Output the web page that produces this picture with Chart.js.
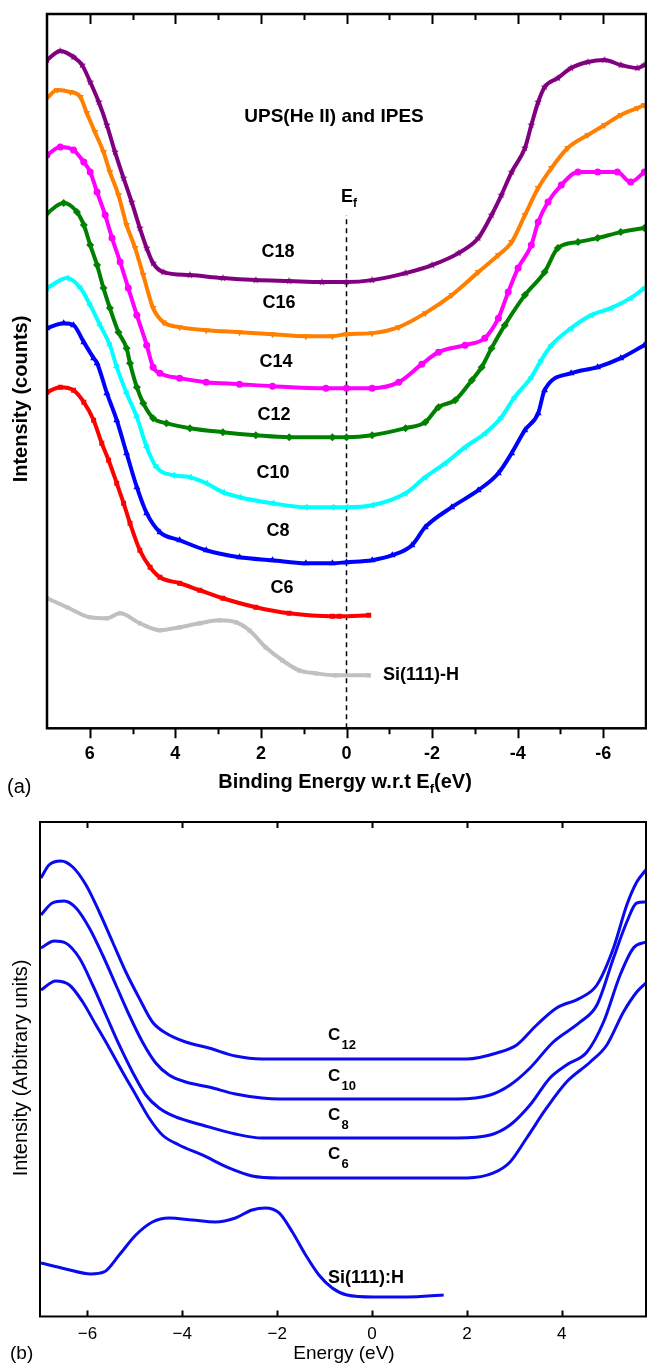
<!DOCTYPE html>
<html>
<head>
<meta charset="utf-8">
<script src="https://cdn.jsdelivr.net/npm/chart.js@4.4.1/dist/chart.umd.min.js"></script>
<style>
html,body{margin:0;padding:0;background:#fff;}
#wrapA{position:absolute;left:0;top:0;width:647px;height:800px;}
#wrapB{position:absolute;left:0;top:800px;width:647px;height:564px;}
</style>
</head>
<body>
<div id="wrapA"><canvas id="chartA" width="647" height="800"></canvas></div>
<div id="wrapB"><canvas id="chartB" width="647" height="564"></canvas></div>
<script>
// ---- panel (a): UPS(He II) + IPES, binding energy (eV), intensity in arbitrary counts
const c18E = [7.0,6.69,6.38,6.18,5.99,5.79,5.6,5.41,5.21,5.02,4.83,4.67,4.52,4.28,3.66,2.89,2.12,1.34,0.57,0.0,-0.6,-1.38,-2.0,-2.62,-3.08,-3.39,-3.62,-3.86,-4.17,-4.32,-4.48,-4.63,-4.94,-5.25,-5.64,-6.03,-6.41,-6.8,-6.96];
const c18V = [668,677,671,663,646,626,603,576,550,526,500,480,465,456,453,450,448,447,446,446,448,455,463,475,490,513,533,556,580,603,626,641,650,660,666,668,663,660,663];
const c16E = [7.0,6.76,6.45,6.22,6.07,5.88,5.68,5.53,5.33,5.14,4.94,4.75,4.52,4.28,3.9,3.28,2.5,1.73,0.95,0.33,0.0,-0.6,-1.22,-1.84,-2.46,-3.08,-3.55,-3.86,-4.17,-4.48,-4.79,-5.17,-5.64,-6.03,-6.41,-6.8,-6.96];
const c16V = [630,638,636,631,615,596,576,556,533,503,480,453,420,406,401,398,396,394,392,392,394,395,401,415,433,456,473,486,513,540,560,580,593,603,613,620,623];
const c14E = [7.0,6.69,6.38,6.14,5.99,5.83,5.64,5.48,5.29,5.1,4.9,4.67,4.52,4.36,3.9,3.28,2.5,1.73,0.48,0.0,-0.6,-1.22,-1.76,-2.15,-2.77,-3.23,-3.55,-3.78,-4.01,-4.32,-4.48,-4.71,-5.02,-5.41,-5.87,-6.33,-6.64,-6.96];
const c14V = [573,581,578,566,556,536,513,490,466,440,413,383,361,355,350,346,344,342,340,340,340,346,364,376,383,390,410,436,460,483,506,526,543,556,556,556,546,556];
const c12E = [7.0,6.61,6.3,6.14,5.99,5.83,5.68,5.53,5.33,5.14,5.06,4.9,4.75,4.52,4.21,3.66,2.89,2.12,1.34,0.33,0.0,-0.6,-1.38,-1.84,-2.15,-2.54,-2.93,-3.16,-3.39,-3.7,-4.17,-4.63,-4.94,-5.41,-5.87,-6.41,-6.96];
const c12V = [515,525,516,503,483,463,440,420,396,380,365,341,325,310,305,300,296,293,291,291,291,293,300,306,321,328,348,361,380,403,433,456,480,486,490,496,500];
const c10E = [7.0,6.53,6.22,5.99,5.76,5.53,5.37,5.14,4.9,4.67,4.44,4.05,3.66,3.28,2.89,2.5,1.73,0.95,0.33,0.0,-0.6,-1.38,-1.84,-2.31,-2.77,-3.24,-3.62,-3.93,-4.32,-4.55,-4.79,-5.25,-5.72,-6.18,-6.64,-6.96];
const c10V = [440,450,440,423,403,383,361,335,311,281,261,253,251,245,236,231,225,221,221,221,223,235,251,265,281,295,311,331,351,368,383,400,413,420,430,440];
const c8E = [7.0,6.61,6.38,6.14,5.91,5.83,5.6,5.37,5.14,4.9,4.67,4.36,3.9,3.28,2.5,1.73,0.95,0.33,0.0,-0.6,-1.07,-1.53,-1.84,-2.46,-3.08,-3.55,-3.86,-4.17,-4.48,-4.63,-5.25,-5.87,-6.41,-6.96];
const c8V = [400,405,403,386,370,365,335,308,275,241,215,196,188,178,171,168,165,165,166,168,173,183,201,221,238,255,275,298,315,338,355,361,370,383];
const c6E = [7.0,6.69,6.38,6.14,5.91,5.72,5.56,5.37,5.21,5.06,4.83,4.59,4.36,3.9,3.43,2.89,2.12,1.34,0.33,0.17,-0.52];
const c6V = [336,341,338,326,308,285,268,245,225,205,178,161,151,145,138,130,121,115,112,112,113];
const siE = [7.0,6.53,5.99,5.6,5.29,4.83,4.36,3.9,3.43,2.97,2.58,2.27,1.89,1.5,1.11,0.72,0.26,-0.52];
const siV = [130,121,111,110,115,105,98,101,105,108,106,98,81,68,58,55,53,53];
const efLineV = [0, 513];
const ticksA = [-7,-6,-5,-4,-3,-2,-1,0,1,2,3,4,5,6,7];

// ---- panel (b): calculated DOS, energy (eV)
const bC12E = [-6.98,-6.81,-6.56,-6.31,-6.03,-5.75,-5.47,-5.19,-4.91,-4.63,-4.35,-3.93,-3.44,-2.88,-2.32,-1.96,2.0,2.63,3.05,3.47,3.89,4.39,4.74,5.09,5.37,5.58,5.77];
const bC12V = [437,450,454,448,430,403,373,343,317,293,282,273,267,259,256,256,256,262,270,290,307,317,330,367,410,433,445];
const bC10E = [-6.98,-6.74,-6.49,-6.24,-5.96,-5.68,-5.4,-5.12,-4.84,-4.56,-4.28,-3.93,-3.44,-2.88,-2.32,-1.96,1.79,2.49,2.91,3.33,3.82,4.39,4.74,5.09,5.37,5.58,5.77];
const bC10V = [400,412,414,407,387,360,330,300,273,252,240,233,228,221,217,216,216,220,230,247,273,293,310,357,393,412,413];
const bC8E = [-6.98,-6.7,-6.46,-6.17,-5.89,-5.61,-5.33,-5.05,-4.77,-4.49,-4.14,-3.58,-2.88,-2.32,-1.96,1.79,2.49,2.91,3.33,3.75,4.1,4.53,4.88,5.23,5.51,5.77];
const bC8V = [367,374,372,357,330,300,270,243,220,207,198,190,181,177,177,177,180,190,210,237,250,263,293,340,367,373];
const bC6E = [-6.98,-6.67,-6.38,-6.1,-5.82,-5.54,-5.26,-4.98,-4.7,-4.42,-4.07,-3.58,-3.02,-2.53,-1.96,2.0,2.56,2.91,3.26,3.68,4.1,4.6,4.95,5.3,5.58,5.77];
const bC6V = [325,334,330,313,290,267,243,220,197,180,170,160,147,139,137,137,142,153,177,207,233,253,270,303,323,332];
const bSiE = [-6.98,-6.46,-5.93,-5.65,-5.33,-4.98,-4.63,-4.28,-3.79,-3.3,-2.88,-2.53,-2.25,-1.96,-1.68,-1.4,-1.12,-0.84,-0.53,0.03,0.74,1.51];
const bSiV = [52,46,41,43,60,80,93,97,95,93,97,105,107,102,83,60,40,27,20,18,18,20];
const ticksB = [-6,-4,-2,0,2,4];

const FONT = "'Liberation Sans', Arial, Helvetica, sans-serif";
const pts = (xs, ys) => xs.map((x, i) => ({ x: x, y: ys[i] }));

function starImg(color, r) {
  const c = document.createElement('canvas');
  c.width = c.height = 2 * r + 2;
  const g = c.getContext('2d');
  g.fillStyle = color;
  g.beginPath();
  for (let i = 0; i < 10; i++) {
    const rr = i % 2 ? r * 0.45 : r;
    const a = -Math.PI / 2 + i * Math.PI / 5;
    g.lineTo(r + 1 + rr * Math.cos(a), r + 1 + rr * Math.sin(a));
  }
  g.closePath();
  g.fill();
  return c;
}

function series(label, xs, ys, color, style, rot, rad) {
  return {
    label: label, data: pts(xs, ys), showLine: true,
    borderColor: color, backgroundColor: color, borderWidth: 4,
    pointStyle: style, pointRotation: rot || 0, pointRadius: rad || 3.5, pointBorderWidth: 0,
    cubicInterpolationMode: 'monotone'
  };
}

function drawSub(ctx, parts, x, y, align) {
  let w = 0;
  parts.forEach(p => { ctx.font = p.font; p.w = ctx.measureText(p.s).width; w += p.w; });
  let cx = align === 'center' ? x - w / 2 : x;
  ctx.textAlign = 'left';
  ctx.textBaseline = 'alphabetic';
  parts.forEach(p => { ctx.font = p.font; ctx.fillText(p.s, cx, y + (p.dy || 0)); cx += p.w; });
}

function label(ctx, s, x, y, font, align) {
  ctx.font = font;
  ctx.textAlign = align || 'center';
  ctx.textBaseline = 'middle';
  ctx.fillText(s, x, y);
}

const decorA = {
  id: 'decorA',
  afterDraw(chart) {
    const ctx = chart.ctx, a = chart.chartArea, xs = chart.scales.x;
    ctx.save();
    ctx.strokeStyle = '#000';
    ctx.fillStyle = '#000';
    ctx.lineWidth = 2.5;
    ctx.strokeRect(a.left, a.top, a.right - a.left, a.bottom - a.top);
    ctx.lineWidth = 2;
    ticksA.forEach(v => {
      if (Math.abs(v) === 7) return;
      const px = Math.round(xs.getPixelForValue(v)) + 0.5;
      const len = v % 2 === 0 ? 10 : 6;
      ctx.beginPath();
      ctx.moveTo(px, a.top); ctx.lineTo(px, a.top + len);
      ctx.moveTo(px, a.bottom); ctx.lineTo(px, a.bottom + len);
      ctx.stroke();
    });
    const B18 = 'bold 18px ' + FONT;
    label(ctx, 'UPS(He II) and IPES', 334, 117, 'bold 19px ' + FONT);
    label(ctx, 'C18', 278, 252, B18);
    label(ctx, 'C16', 279, 303, B18);
    label(ctx, 'C14', 276, 362, B18);
    label(ctx, 'C12', 274, 415, B18);
    label(ctx, 'C10', 273, 473, B18);
    label(ctx, 'C8', 278, 531, B18);
    label(ctx, 'C6', 282, 588, B18);
    label(ctx, 'Si(111)-H', 383, 675, B18, 'left');
    drawSub(ctx, [{ s: 'E', font: B18 }, { s: 'f', font: 'bold 12px ' + FONT, dy: 5 }], 341, 202, 'left');
    drawSub(ctx, [
      { s: 'Binding Energy w.r.t E', font: 'bold 20px ' + FONT },
      { s: 'f', font: 'bold 13px ' + FONT, dy: 5 },
      { s: '(eV)', font: 'bold 20px ' + FONT }
    ], 345, 788, 'center');
    ctx.font = '20px ' + FONT;
    ctx.textAlign = 'left';
    ctx.textBaseline = 'alphabetic';
    ctx.fillText('(a)', 7, 793);
    ctx.translate(21, 399);
    ctx.rotate(-Math.PI / 2);
    label(ctx, 'Intensity (counts)', 0, 0, 'bold 20px ' + FONT);
    ctx.restore();
  }
};

const decorB = {
  id: 'decorB',
  afterDraw(chart) {
    const ctx = chart.ctx, a = chart.chartArea, xs = chart.scales.x;
    ctx.save();
    ctx.strokeStyle = '#000';
    ctx.fillStyle = '#000';
    ctx.lineWidth = 2;
    ctx.strokeRect(a.left, a.top, a.right - a.left, a.bottom - a.top);
    ticksB.forEach(v => {
      const px = Math.round(xs.getPixelForValue(v)) + 0.5;
      ctx.beginPath();
      ctx.moveTo(px, a.top); ctx.lineTo(px, a.top + 6);
      ctx.moveTo(px, a.bottom); ctx.lineTo(px, a.bottom - 6);
      ctx.stroke();
    });
    const BC = 'bold 17px ' + FONT, BS = 'bold 13px ' + FONT;
    [['12', 235.7, 245.5], ['10', 276.7, 286.7], ['8', 315, 325], ['6', 354, 364]].forEach(r => {
      label(ctx, 'C', 328, r[1], BC, 'left');
      label(ctx, r[0], 341.5, r[2], BS, 'left');
    });
    label(ctx, 'Si(111):H', 328, 478, 'bold 18px ' + FONT, 'left');
    ctx.font = '19px ' + FONT;
    ctx.textBaseline = 'alphabetic';
    ctx.textAlign = 'center';
    ctx.fillText('Energy (eV)', 344, 559);
    ctx.textAlign = 'left';
    ctx.fillText('(b)', 10, 559);
    ctx.translate(21, 268);
    ctx.rotate(-Math.PI / 2);
    label(ctx, 'Intensity (Arbitrary units)', 0, 0, '20px ' + FONT);
    ctx.restore();
  }
};

const star = starImg('#800080', 4);

new Chart(document.getElementById('chartA'), {
  type: 'scatter',
  data: {
    datasets: [
      series('Si(111)-H', siE, siV, '#c0c0c0', 'rect', 0, 3),
      series('C6', c6E, c6V, '#ff0000', 'rect', 0, 3.5),
      series('C8', c8E, c8V, '#0000ff', 'triangle', 0, 4),
      series('C10', c10E, c10V, '#00ffff', 'triangle', -90, 4),
      series('C12', c12E, c12V, '#008000', 'rectRot', 0, 4),
      series('C14', c14E, c14V, '#ff00ff', 'circle', 0, 3.5),
      series('C16', c16E, c16V, '#ff8000', 'triangle', 180, 4),
      series('C18', c18E, c18V, '#800080', star, 0, 4),
      {
        label: 'Ef', data: pts([0, 0], efLineV), showLine: true,
        borderColor: '#000', borderWidth: 1.5, borderDash: [5, 4], pointRadius: 0
      }
    ]
  },
  options: {
    responsive: false, animation: false,
    layout: { autoPadding: false, padding: { left: 47, right: 1, top: 14, bottom: 19.5 } },
    plugins: { legend: { display: false }, tooltip: { enabled: false } },
    scales: {
      x: {
        type: 'linear', min: -7, max: 7, reverse: true,
        grid: { display: false, drawTicks: false, tickLength: 0 },
        border: { display: false },
        ticks: {
          stepSize: 1, autoSkip: false, maxRotation: 0, padding: 0, color: '#000',
          font: { family: FONT, size: 18, weight: 'bold', lineHeight: 2.9 },
          callback: v => (Number.isInteger(v) && v % 2 === 0) ? String(v === 0 ? 0 : v) : ''
        }
      },
      y: { display: false, min: 0, max: 714 }
    }
  },
  plugins: [decorA]
});

new Chart(document.getElementById('chartB'), {
  type: 'scatter',
  data: {
    datasets: [
      { l: 'C12', e: bC12E, v: bC12V }, { l: 'C10', e: bC10E, v: bC10V },
      { l: 'C8', e: bC8E, v: bC8V }, { l: 'C6', e: bC6E, v: bC6V },
      { l: 'Si(111):H', e: bSiE, v: bSiV }
    ].map(s => ({
      label: s.l, data: pts(s.e, s.v), showLine: true,
      borderColor: '#0a0af0', borderWidth: 3, pointRadius: 0,
      cubicInterpolationMode: 'monotone'
    }))
  },
  options: {
    responsive: false, animation: false,
    layout: { autoPadding: false, padding: { left: 40, right: 1, top: 22, bottom: 12.5 } },
    plugins: { legend: { display: false }, tooltip: { enabled: false } },
    scales: {
      x: {
        type: 'linear', min: -7, max: 5.775,
        grid: { display: false, drawTicks: false, tickLength: 0 },
        border: { display: false },
        ticks: {
          stepSize: 1, autoSkip: false, maxRotation: 0, padding: 0, color: '#000',
          font: { family: FONT, size: 17, lineHeight: 2.06 },
          callback: v => (Number.isInteger(v) && v % 2 === 0) ? (v < 0 ? '\u2212' + Math.abs(v) : String(v)) : ''
        }
      },
      y: { display: false, min: -1.5, max: 493 }
    }
  },
  plugins: [decorB]
});
</script>
</body>
</html>
